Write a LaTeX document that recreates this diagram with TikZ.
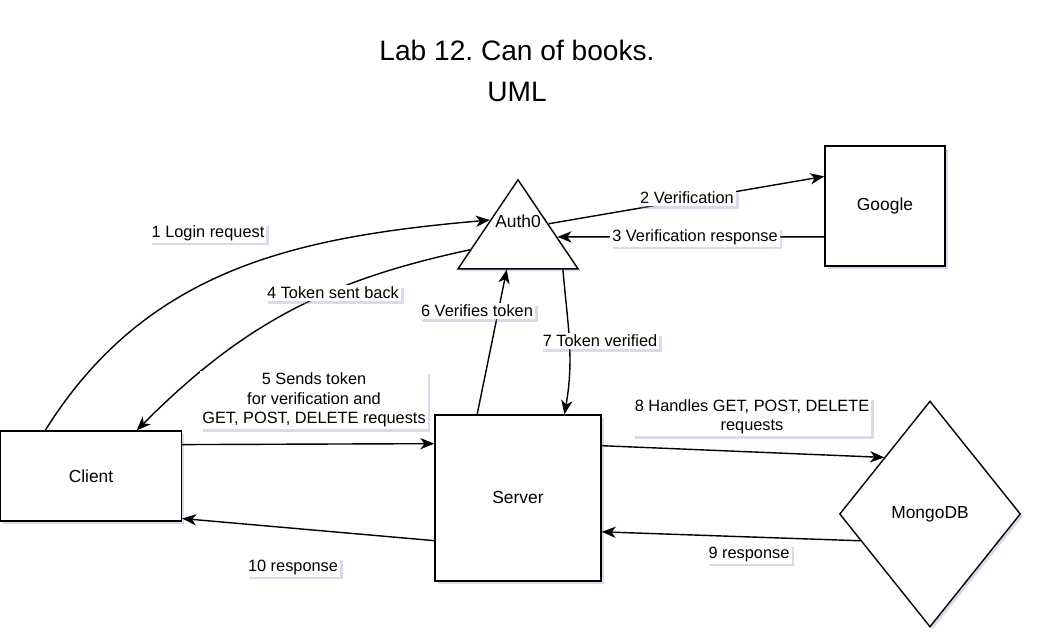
\documentclass[tikz,border=0pt]{standalone}
\usepackage{fontspec}
\setmainfont{Liberation Sans}
\frenchspacing
\usetikzlibrary{shapes.geometric,arrows.meta,shadows}

\definecolor{shadegray}{RGB}{150,150,195}

\tikzset{
  soft shadow/.style={drop shadow={shadow xshift=1.5pt, shadow yshift=-1.5pt, fill=shadegray, opacity=0.35}},
  block/.style={draw, fill=white, line width=0.8pt, inner sep=0pt, font=\fontsize{9.9}{12}\selectfont, soft shadow},
  tri/.style={block, isosceles triangle, isosceles triangle stretches, shape border rotate=90, minimum width=2.4cm, minimum height=1.78cm},
  gem/.style={block, diamond, minimum width=3.62cm, minimum height=4.52cm},
  tag/.style={fill=white, inner sep=1.2pt, align=center, font=\fontsize{9.3}{11}\selectfont, soft shadow},
  link/.style={line width=0.8pt, -{Stealth[length=8pt,width=6.4pt,inset=2.4pt]}},
}

\begin{document}
\begin{tikzpicture}
	\useasboundingbox (0,0) rectangle (20.76,-12.88);
	\node[align=center, font=\fontsize{16}{23.8}\selectfont] (title) at (10.34,-1.42) {Lab 12. Can of books.\\UML};

	% shapes
	\node[tri, anchor=apex, label={[anchor=center, yshift=-0.86cm, font=\fontsize{9.9}{12}\selectfont]above:Auth0}] (auth0) at (10.36,-3.56) {};
	\node[block, minimum width=2.4cm, minimum height=2.4cm] (google) at (17.7,-4.12) {Google};
	\node[block, minimum width=3.62cm, minimum height=1.8cm] (client) at (1.82,-9.52) {Client};
	\node[block, minimum width=3.32cm, minimum height=3.32cm] (server) at (10.36,-9.96) {Server};
	\node[gem] (mongo) at (18.6,-10.28) {MongoDB};

	% connectors
	\draw[link] (client.135) to[out=58, in=185] (auth0.149);
	\draw[link] (auth0.right side) -- (google.154);
	\draw[link] (google.207) -- (auth0.0);
	\draw[link] (auth0.195) to[out=192, in=45] (client.45);
	\draw[link] (client.19) -- (server.147);
	\draw[link] (server.116) -- (auth0.251);
	\draw[link] (auth0.-36) to[out=-85, in=80] (server.61);
	\draw[link] (server.32) -- (mongo.129);
	\draw[link] (mongo.201) -- (server.-22);
	\draw[link] (server.207) -- (client.-25);

	% labels
	\node[tag] (l1) at (4.16,-4.66) {1 Login request};
	\node[tag] (l2) at (13.74,-3.96) {2 Verification};
	\node[tag] (l3) at (13.9,-4.74) {3 Verification response};
	\node[tag] (l4) at (6.66,-5.86) {4 Token sent back};
	\node[tag] (l5) at (6.28,-8.0) {5 Sends token\\for verification and\\GET, POST, DELETE requests};
	\node[tag] (l6) at (9.54,-6.22) {6 Verifies token};
	\node[tag] (l7) at (12.0,-6.82) {7 Token verified};
	\node[tag] (l8) at (15.04,-8.34) {8 Handles GET, POST, DELETE\\requests};
	\node[tag] (l9) at (14.98,-11.08) {9 response};
	\node[tag] (l10) at (5.86,-11.34) {10 response};
\end{tikzpicture}
\end{document}
